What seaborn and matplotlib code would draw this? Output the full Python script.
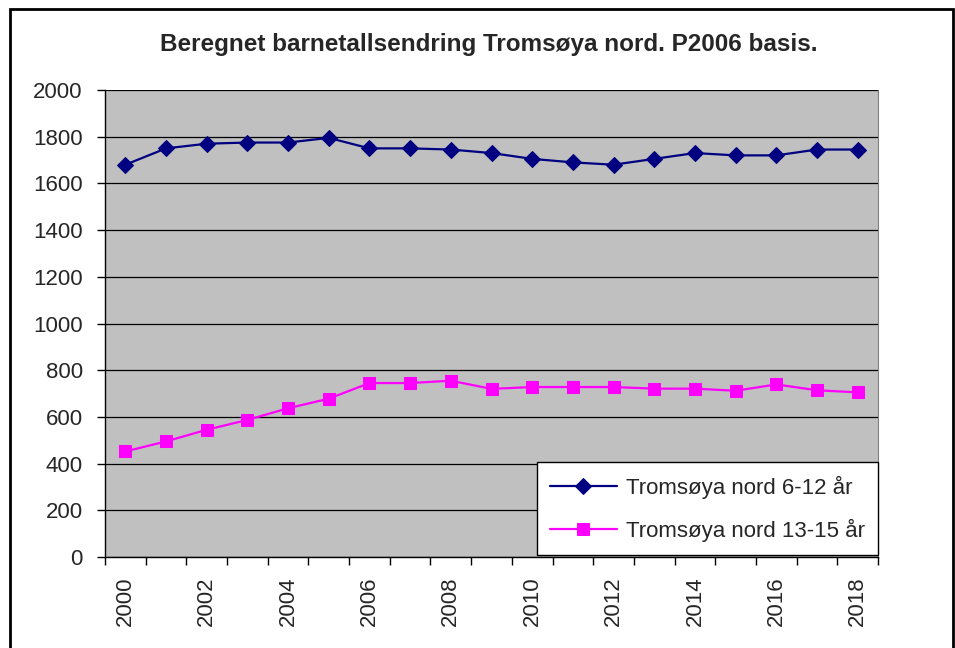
import pandas as pd
import matplotlib.pyplot as plt
import seaborn as sns
from matplotlib.patches import Rectangle

years = list(range(2000, 2019))
age_6_12 = [1680, 1750, 1770, 1775, 1775, 1795, 1750, 1750, 1745, 1730,
            1705, 1690, 1680, 1705, 1730, 1720, 1720, 1745, 1745]
age_13_15 = [452, 495, 545, 587, 637, 678, 745, 745, 755, 720,
             728, 728, 728, 721, 721, 712, 739, 714, 705]
label_6_12 = "Tromsøya nord 6-12 år"
label_13_15 = "Tromsøya nord 13-15 år"

sns.set_style("white")
plt.rcParams['font.family'] = ['Liberation Sans', 'DejaVu Sans']

df = pd.DataFrame({"pos": range(len(years)), "a": age_6_12, "b": age_13_15})

fig = plt.figure(figsize=(9.55, 6.48), dpi=100)
ax = fig.add_axes([105/955, 1-557/648, 773/955, 467/648])
ax.set_facecolor("#C0C0C0")

sns.lineplot(data=df, x="pos", y="a", ax=ax, color="#000080", marker="D",
             markersize=8.5, markeredgecolor="#000080", linewidth=1.6, label=label_6_12)
sns.lineplot(data=df, x="pos", y="b", ax=ax, color="#FF00FF", marker="s",
             markersize=8, markeredgecolor="#FF00FF", linewidth=1.6, label=label_13_15)

ax.set_xlim(-0.5, len(years) - 0.5)
ax.set_ylim(0, 2000)
ax.set_yticks(range(0, 2001, 200))
ax.yaxis.grid(True, color="black", linewidth=0.9)
ax.set_axisbelow(True)
ax.tick_params(axis="y", direction="out", length=6, width=1, color="black",
               labelsize=16, left=True, pad=10)
ax.set_xticks(range(0, len(years), 2))
ax.set_xticklabels([str(y) for y in years[::2]], rotation=90)
ax.set_xticks([i - 0.5 for i in range(len(years) + 1)], minor=True)
ax.tick_params(axis="x", which="major", length=0, labelsize=16, pad=14)
ax.tick_params(axis="x", which="minor", direction="out", length=6, width=1,
               color="black", bottom=True)
ax.set_xlabel("")
ax.set_ylabel("")

for side in ["left", "bottom"]:
    ax.spines[side].set_color("black")
    ax.spines[side].set_linewidth(1)
ax.spines["top"].set_visible(False)
ax.spines["right"].set_color("#808080")

leg = ax.legend(loc="lower right", bbox_to_anchor=(1.0, 0.004), fontsize=16,
                frameon=True, fancybox=False, framealpha=1, edgecolor="black",
                borderpad=0.6, labelspacing=0.9, handlelength=3.0,
                handletextpad=0.4, borderaxespad=0)
leg.get_frame().set_linewidth(1)

fig.text(489/955, 1 - 45/648, "Beregnet barnetallsendring Tromsøya nord. P2006 basis.",
         ha="center", va="center", fontsize=17.5, fontweight="bold")

fig.patches.append(Rectangle((10/955, -0.05), 943/955, 1.05 - 9/648,
                             transform=fig.transFigure, fill=False,
                             edgecolor="black", linewidth=2))

fig.savefig("out.png", dpi=100)
